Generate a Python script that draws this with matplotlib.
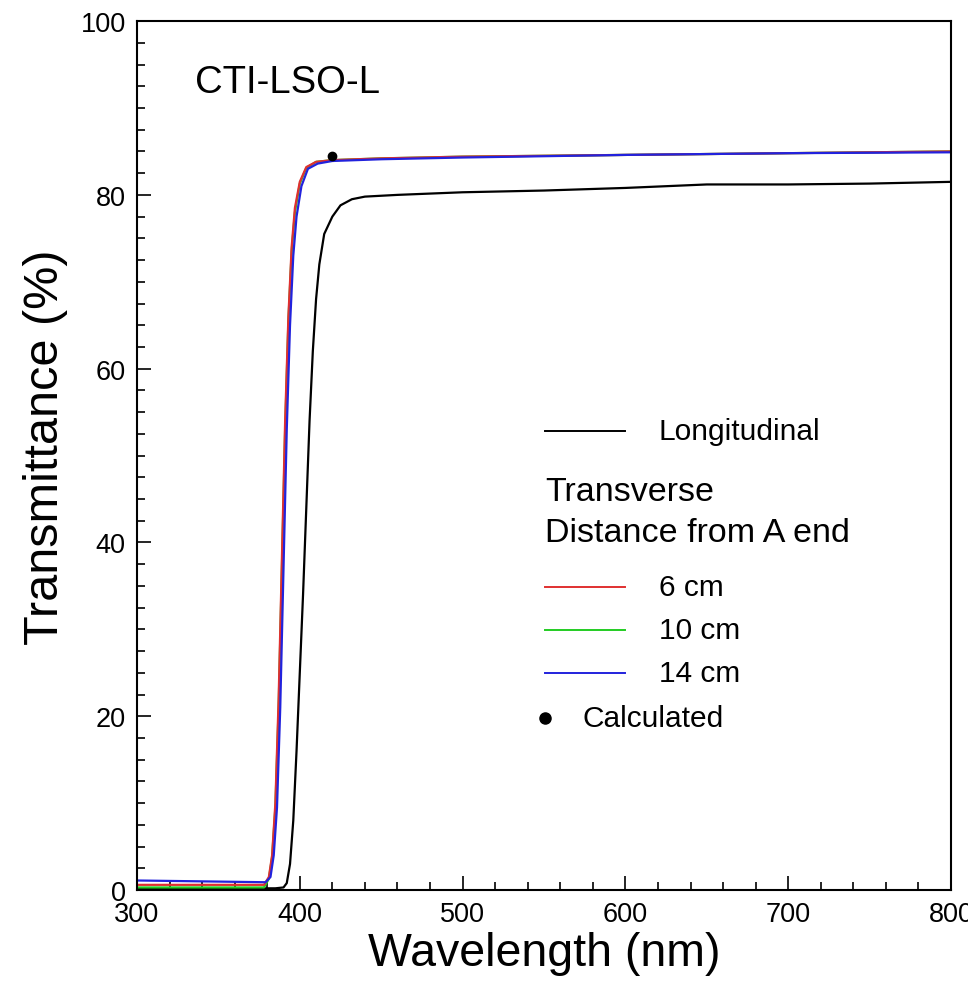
import numpy as np
import matplotlib.pyplot as plt
from matplotlib.ticker import MultipleLocator

plt.rcParams["font.family"] = ["Liberation Sans", "DejaVu Sans"]

# longitudinal transmittance
wl_long = [300, 350, 385, 390, 392, 394, 396, 398, 400, 402, 404, 406, 408, 410, 412, 415,
           420, 425, 432, 440, 460, 500, 550, 600, 650, 700, 750, 800]
t_long = [0.2, 0.2, 0.2, 0.3, 0.8, 3.0, 8.0, 16.0, 25.0, 34.0, 44.0, 54.0, 62.0, 68.0, 72.0, 75.5,
          77.5, 78.8, 79.5, 79.8, 80.0, 80.3, 80.5, 80.8, 81.2, 81.2, 81.3, 81.5]

# transverse transmittance, 6 / 10 / 14 cm from A end
wl_tr = [300, 340, 378, 381, 383, 385, 387, 389, 391, 393, 395, 397, 400, 404, 410,
         420, 450, 500, 600, 700, 800]
t_6cm = [0.6, 0.6, 0.6, 1.5, 4.0, 10.0, 22.0, 38.0, 54.0, 66.0, 74.0, 78.5, 81.5, 83.2, 83.8,
         84.0, 84.2, 84.4, 84.6, 84.8, 85.0]
t_10cm = [0.3, 0.3, 0.3, 1.3, 3.8, 9.5, 21.0, 37.0, 53.0, 65.5, 73.5, 78.0, 81.3, 83.1, 83.8,
          84.0, 84.2, 84.4, 84.6, 84.8, 85.0]
wl_14 = [300, 340, 379, 382, 384, 386, 388, 390, 392, 394, 396, 398, 401, 405, 411,
         420, 450, 500, 600, 700, 800]
t_14cm = [1.1, 1.0, 0.9, 1.5, 4.0, 9.5, 21.0, 37.0, 53.0, 65.0, 73.0, 77.5, 81.0, 83.0, 83.6,
          83.9, 84.1, 84.3, 84.6, 84.8, 84.9]

calc_wl = [420]
calc_t = [84.5]

fig = plt.figure(figsize=(9.68, 10.04), dpi=100)
ax = fig.add_axes([0.1415, 0.1125, 0.841, 0.8655])

ax.plot(wl_long, t_long, color="black", lw=1.6)
ax.plot(wl_tr, t_10cm, color="#22cc22", lw=1.6)
ax.plot(wl_tr, t_6cm, color="#e03030", lw=1.6)
ax.plot(wl_14, t_14cm, color="#2222dd", lw=1.6)
ax.plot(calc_wl, calc_t, "o", color="black", ms=6)

ax.set_xlim(300, 800)
ax.set_ylim(0, 100)
ax.xaxis.set_major_locator(MultipleLocator(100))
ax.xaxis.set_minor_locator(MultipleLocator(20))
ax.yaxis.set_major_locator(MultipleLocator(20))
ax.yaxis.set_minor_locator(MultipleLocator(2.5))
ax.tick_params(which="both", direction="in", top=False, right=False, labelsize=19.5)
ax.tick_params(axis="x", pad=8)
ax.tick_params(axis="y", pad=8)
ax.tick_params(which="major", length=10, width=1.2)
ax.tick_params(which="minor", length=6, width=1.2)
for s in ax.spines.values():
    s.set_linewidth(1.5)

ax.set_xlabel("Wavelength (nm)", fontsize=33.5, labelpad=3)
ax.set_ylabel("Transmittance (%)", fontsize=35)
ax.yaxis.set_label_coords(-0.085, 0.511)

ax.text(335.5, 93, "CTI-LSO-L", fontsize=27.5, va="center")

# hand-made legend (axes fraction coordinates)
tr = ax.transAxes
x0, x1, xt = 0.501, 0.599, 0.641
ax.plot([x0, x1], [0.528, 0.528], color="black", lw=1.4, transform=tr)
ax.text(xt, 0.528, "Longitudinal", fontsize=21.5, va="center", transform=tr)
ax.text(x0, 0.459, "Transverse", fontsize=24.5, va="center", transform=tr)
ax.text(x0, 0.412, "Distance from A end", fontsize=24.5, va="center", transform=tr)
entries = [("6 cm", "#e03030", 0.349), ("10 cm", "#22cc22", 0.299), ("14 cm", "#2222dd", 0.250)]
for lab, col, yy in entries:
    ax.plot([x0, x1], [yy, yy], color=col, lw=1.4, transform=tr)
    ax.text(xt, yy, lab, fontsize=21.5, va="center", transform=tr)
ax.plot([x0], [0.198], "o", color="black", ms=8, transform=tr)
ax.text(0.547, 0.198, "Calculated", fontsize=21.5, va="center", transform=tr)

fig.savefig("out.png", dpi=100)
